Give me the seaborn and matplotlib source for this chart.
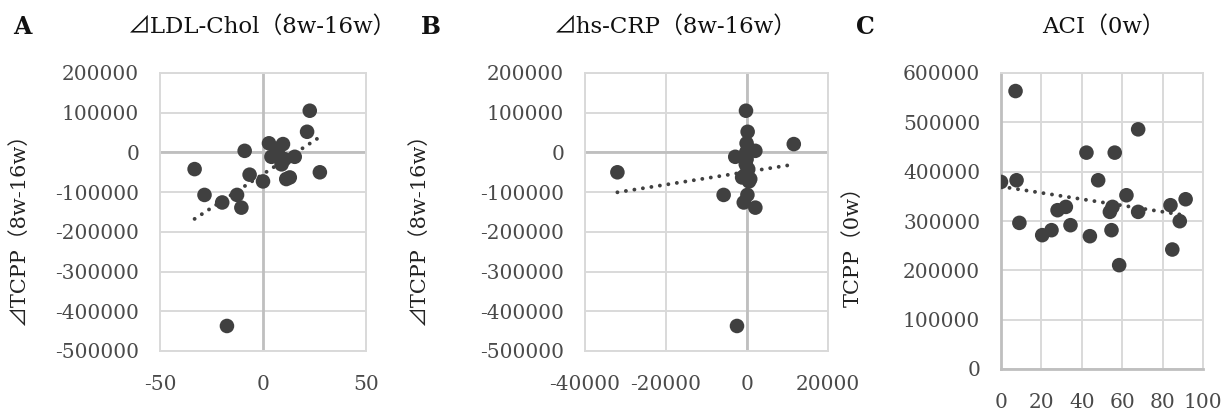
import numpy as np
import pandas as pd
import matplotlib
matplotlib.use("Agg")
import matplotlib.pyplot as plt
import seaborn as sns

# ---------------- data ----------------
# Panel A/B share the same delta TCPP values (y)
d_tcpp = [105000, 52000, 23000, 21000, 10000, 4000, 0, -11000, -11000, -17000,
          -30000, -42000, -50000, -56000, -63000, -67000, -73000, -107000,
          -107000, -126000, -139000, -437000]
d_ldl = [22.7, 21.4, 2.9, 9.7, 7.5, -8.9, 6.5, 4.1, 15.4, 10.5,
         9.0, -33.2, 27.6, -6.5, 13.0, 11.3, 0.0, -28.4,
         -12.6, -19.8, -10.5, -17.5]
d_crp = [-250, 160, -100, 11550, 300, 2060, -200, -2900, -300, -100,
         -300, 300, -32000, -400, -1200, 800, 500, -5770,
         100, -800, 2060, -2470]

# Panel C
aci_0w = [7.2, 0.0, 7.7, 9.1, 20.4, 25.0, 28.0, 32.1, 34.4, 42.3, 44.0, 48.1,
          56.3, 54.7, 53.9, 55.2, 58.5, 62.1, 67.9, 67.9, 83.9, 84.8, 88.5, 91.4]
tcpp_0w = [563400, 379200, 382600, 296200, 271300, 281400, 321900, 328600,
           291500, 438600, 269200, 382600, 438600, 281400, 318500, 328600,
           210500, 352200, 485800, 318500, 332000, 242200, 299600, 344100]

titles = ["⊿LDL-Chol（8w-16w）", "⊿hs-CRP（8w-16w）", "ACI（0w）"]
letters = ["A", "B", "C"]
ylabels = ["⊿TCPP（8w-16w）", "⊿TCPP（8w-16w）", "TCPP（0w）"]
xticks_A = [-50, 0, 50]
xticks_B = [-40000, -20000, 0, 20000]
xticks_C = [0, 20, 40, 60, 80, 100]
yticks_AB = [200000, 100000, 0, -100000, -200000, -300000, -400000, -500000]
yticks_C = [0, 100000, 200000, 300000, 400000, 500000, 600000]

# ---------------- style ----------------
sns.set_style("white")
plt.rcParams['font.family'] = ['DejaVu Serif', 'Noto Sans CJK JP']
plt.rcParams['axes.unicode_minus'] = False

W, H = 1225, 412
fig = plt.figure(figsize=(W / 100, H / 100), dpi=100)

def frac(left, top, right, bottom):
    return [left / W, 1 - bottom / H, (right - left) / W, (bottom - top) / H]

axA = fig.add_axes(frac(160, 73, 366, 351))
axB = fig.add_axes(frac(585, 73, 828, 351))
axC = fig.add_axes(frac(1001, 73, 1203, 369))

PT = "#404040"
GRID = "#d9d9d9"
ZERO = "#bfbfbf"
TICK = "#4a4a4a"
dots = (0, (0.01, 2.2))

dfA = pd.DataFrame({"x": d_ldl, "y": d_tcpp})
dfB = pd.DataFrame({"x": d_crp, "y": d_tcpp})
dfC = pd.DataFrame({"x": aci_0w, "y": tcpp_0w})

def draw(ax, df):
    sns.regplot(data=df, x="x", y="y", ax=ax, scatter=False, ci=None,
                line_kws=dict(color=PT, lw=2.8, ls=dots, dash_capstyle="round",
                              zorder=3))
    sns.scatterplot(data=df, x="x", y="y", ax=ax, s=110, color=PT,
                    edgecolor="none", linewidth=0, zorder=4, legend=False)
    ax.set_xlabel("")
    ax.set_ylabel("")

for ax, df in [(axA, dfA), (axB, dfB), (axC, dfC)]:
    draw(ax, df)
    ax.tick_params(length=0, labelsize=14.5, labelcolor=TICK)
    ax.tick_params(axis="y", pad=15)
    ax.tick_params(axis="x", pad=17)
    for sp in ax.spines.values():
        sp.set_color(GRID)
        sp.set_linewidth(1.4)
    ax.set_axisbelow(True)

# Panel A
axA.set_xlim(-50, 50)
axA.set_ylim(-500000, 200000)
axA.set_xticks(xticks_A)
axA.set_yticks(yticks_AB)
axA.grid(axis="y", color=GRID, lw=1.4)
axA.axhline(0, color=ZERO, lw=2, zorder=1)
axA.axvline(0, color=ZERO, lw=2, zorder=1)

# Panel B
axB.set_xlim(-40000, 20000)
axB.set_ylim(-500000, 200000)
axB.set_xticks(xticks_B)
axB.set_yticks(yticks_AB)
axB.grid(True, color=GRID, lw=1.4)
axB.axhline(0, color=ZERO, lw=2, zorder=1)
axB.axvline(0, color=ZERO, lw=2, zorder=1)

# Panel C
axC.set_xlim(0, 100)
axC.set_ylim(0, 600000)
axC.set_xticks(xticks_C)
axC.set_yticks(yticks_C)
axC.grid(True, color=GRID, lw=1.4)
axC.spines["left"].set_color(ZERO)
axC.spines["left"].set_linewidth(2)
axC.spines["bottom"].set_color(ZERO)
axC.spines["bottom"].set_linewidth(2)

for ax in (axA, axB, axC):
    ax.xaxis.set_major_formatter(matplotlib.ticker.FuncFormatter(lambda v, p: f"{v:.0f}"))
    ax.yaxis.set_major_formatter(matplotlib.ticker.FuncFormatter(lambda v, p: f"{v:.0f}"))

# y labels
for ax, lab, (lx, ly) in zip((axA, axB, axC), ylabels,
                             [(-0.64, 0.457), (-0.646, 0.457), (-0.683, 0.432)]):
    ax.set_ylabel(lab, fontsize=15, color="#222222")
    ax.yaxis.set_label_coords(lx, ly)

# titles and panel letters
for x, t in zip([262, 675, 1103], titles):
    fig.text(x / W, 1 - 27 / H, t, ha="center", va="center", fontsize=16.5, color="#111111")
for x, l in zip([22, 431, 865], letters):
    fig.text(x / W, 1 - 27 / H, l, ha="center", va="center", fontsize=17,
             fontweight="bold", color="#111111")

fig.savefig("out.png", dpi=100, facecolor="white")
